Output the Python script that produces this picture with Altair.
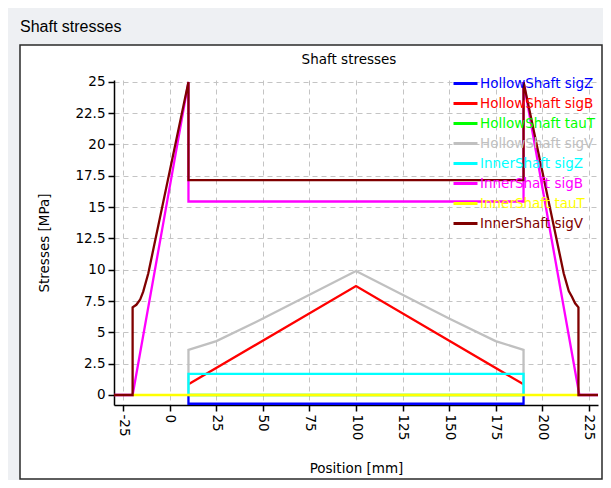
import json
import altair as alt
import pandas as pd

FONT = "DejaVu Sans"

names = ["HollowShaft sigZ", "HollowShaft sigB", "HollowShaft tauT", "HollowShaft sigV",
         "InnerShaft sigZ", "InnerShaft sigB", "InnerShaft tauT", "InnerShaft sigV"]
colors = ["#0000ff", "#ff0000", "#00ff00", "#c0c0c0",
          "#00ffff", "#ff00ff", "#ffff00", "#800000"]

hs_sigz_x = [10, 10, 190, 190]
hs_sigz_y = [0, -0.7, -0.7, 0]

hs_sigb_x = [10, 100, 190]
hs_sigb_y = [0.85, 8.7, 0.85]

hs_taut_x = [10, 190]
hs_taut_y = [0, 0]

hs_sigv_x = [10, 10, 25, 50, 75, 100, 125, 150, 175, 190, 190]
hs_sigv_y = [0, 3.6, 4.3, 6.1, 8.0, 9.9, 8.0, 6.1, 4.3, 3.6, 0]

is_sigz_x = [10, 10, 190, 190]
is_sigz_y = [0, 1.68, 1.68, 0]

is_sigb_x = [-30, -20, 10, 10, 190, 190, 220, 230]
is_sigb_y = [0, 0, 25, 15.45, 15.45, 25, 0, 0]

is_taut_x = [-20, 220]
is_taut_y = [0, 0]

is_sigv_x = [-30, -20, -20, -18, -16, -14.3, -11.6, 10, 10,
             190, 190, 211.6, 214.3, 216, 217.7, 219.5, 219.5, 230]
is_sigv_y = [0, 0, 7.0, 7.2, 7.6, 8.25, 9.7, 25, 17.15,
             17.15, 25, 9.7, 8.3, 7.85, 7.32, 7.0, 0, 0]

all_x = [hs_sigz_x, hs_sigb_x, hs_taut_x, hs_sigv_x, is_sigz_x, is_sigb_x, is_taut_x, is_sigv_x]
all_y = [hs_sigz_y, hs_sigb_y, hs_taut_y, hs_sigv_y, is_sigz_y, is_sigb_y, is_taut_y, is_sigv_y]

x_ticks = [-25, 0, 25, 50, 75, 100, 125, 150, 175, 200, 225]
y_ticks = [0, 2.5, 5, 7.5, 10, 12.5, 15, 17.5, 20, 22.5, 25]

rows = []
for name, xs, ys in zip(names, all_x, all_y):
    for i, (a, b) in enumerate(zip(xs, ys)):
        rows.append({"series": name, "pos": a, "val": b, "idx": i})
df = pd.DataFrame(rows)

W, H = 484, 325

label_color_expr = ""
for n, c in zip(names, colors):
    label_color_expr += "datum.label == %s ? %s : " % (json.dumps(n), json.dumps(c))
label_color_expr += "'#000000'"

xenc = alt.X("pos:Q",
             scale=alt.Scale(domain=[-30, 230], nice=False, zero=False),
             axis=alt.Axis(values=x_ticks, title="Position [mm]", labelAngle=90,
                           labelExpr="datum.value + ''",
                           labelPadding=3, labelFlush=False, labelOverlap=False,
                           titlePadding=22))
yenc = alt.Y("val:Q",
             scale=alt.Scale(domain=[-0.8, 25.15], nice=False, zero=False),
             axis=alt.Axis(values=y_ticks, labelExpr="datum.value + ''", title="Stresses [MPa]",
                           labelPadding=3, labelFlush=False, labelOverlap=False,
                           titlePadding=23))
cenc = alt.Color("series:N",
                 scale=alt.Scale(domain=names, range=colors),
                 legend=alt.Legend(orient="none", legendX=338, legendY=-10, title=None,
                                   symbolType="stroke", symbolSize=576, symbolStrokeWidth=3,
                                   labelFont=FONT, labelFontSize=13.5, labelOffset=1,
                                   rowPadding=-6, labelLimit=400, padding=0,
                                   labelColor=alt.ExprRef(expr=label_color_expr)))

one = pd.DataFrame({"a": [0]})
FRAME = "#eef0f3"

# window frame around the white panel (page coords minus plot origin 114, 80)
strips = [
    (-106, W + 5, -72, -35),
    (-106, -94, -72, H + 75),
]
layers = []
for (x1, x2, y1, y2) in strips:
    layers.append(alt.Chart(one).mark_rect(fill=FRAME, strokeWidth=0).encode(
        x=alt.value(x1), x2=alt.value(x2), y=alt.value(y1), y2=alt.value(y2)))

layers.append(alt.Chart(one).mark_rect(fillOpacity=0, stroke="#2a2a2a", strokeWidth=1.5).encode(
    x=alt.value(-94), x2=alt.value(W + 4), y=alt.value(-35), y2=alt.value(H + 74)))

for name in names:
    layers.append(
        alt.Chart(df).transform_filter(alt.datum.series == name)
        .mark_line(strokeWidth=2.3, clip=False)
        .encode(x=xenc, y=yenc, color=cenc, order="idx:Q")
    )

layers.append(alt.Chart(one).mark_text(text="Shaft stresses", font=FONT, fontSize=13.5,
                                       color="#000", align="center", baseline="middle").encode(
    x=alt.value(235), y=alt.value(-20)))
layers.append(alt.Chart(one).mark_text(text="Shaft stresses", font="Liberation Sans", fontSize=16,
                                       color="#000", align="left", baseline="middle").encode(
    x=alt.value(-94), y=alt.value(-53)))

chart = alt.layer(*layers).properties(
    width=W, height=H,
    autosize=alt.AutoSizeParams(type="none"),
    padding={"left": 106, "top": 72, "right": 5, "bottom": 75},
    background="white",
).configure_view(stroke=None).configure_axis(
    domainColor="#000", domainWidth=1.5, tickColor="#000", tickWidth=1.5, tickSize=6,
    labelFont=FONT, labelFontSize=13.5, labelColor="#000",
    titleFont=FONT, titleFontSize=13.5, titleFontWeight="normal", titleColor="#000",
    gridColor="#c4c4c4", gridDash=[5, 4], gridWidth=1,
)

chart.save("out.html", embed_options={"renderer": "svg", "actions": False})
